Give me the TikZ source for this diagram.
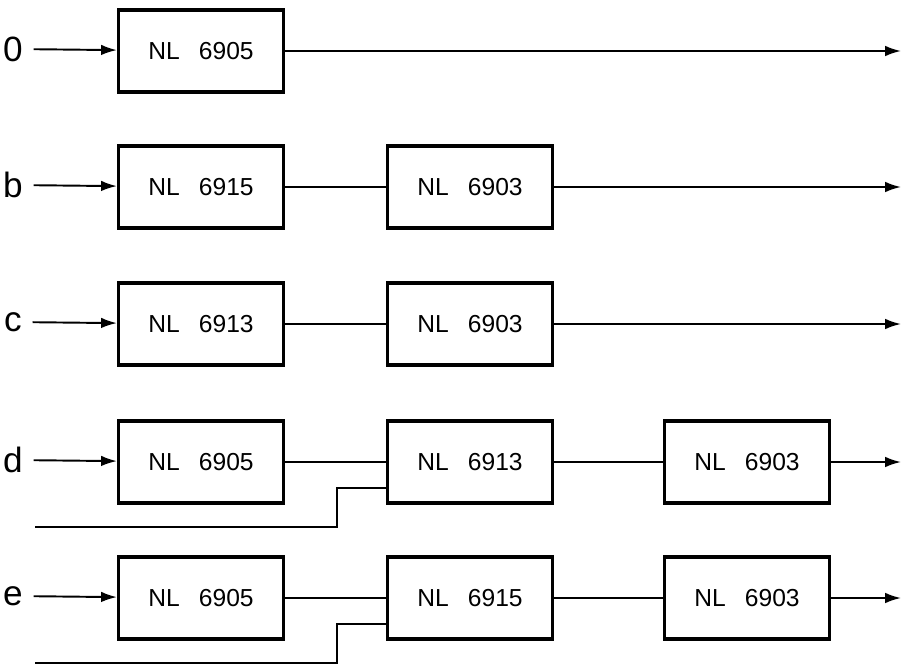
\documentclass[tikz,border=0pt]{standalone}
\usepackage{fontspec}
\setmainfont{Liberation Sans}
\usetikzlibrary{arrows.meta}
\begin{document}
\begin{tikzpicture}[x=0.02cm,y=-0.02cm,font=\fontsize{14}{16}\selectfont,
    blk/.style={draw,line width=1.8pt,minimum width=3.3cm,minimum height=1.64cm,inner sep=0pt},
    lbl/.style={font=\fontsize{20}{22}\selectfont,inner sep=6pt},
    wire/.style={line width=1.1pt},
    flow/.style={wire,-{Latex[length=9pt,width=6pt]}}]
    \useasboundingbox (0,0) rectangle (903,666);
    % row a
    \node[lbl] (la) at (13,49) {0};
    \node[blk] (a1) at (201,51) {NL\enspace\ 6905};
    \coordinate (ao) at (901,51);
    \draw[flow] (la) -- (a1);
    \draw[flow] (a1) -- (ao);
    % row b
    \node[lbl] (lb) at (13,185) {b};
    \node[blk] (b1) at (201,187) {NL\enspace\ 6915};
    \node[blk] (b2) at (470,187) {NL\enspace\ 6903};
    \coordinate (bo) at (901,187);
    \draw[flow] (lb) -- (b1);
    \draw[wire] (b1) -- (b2);
    \draw[flow] (b2) -- (bo);
    % row c
    \node[lbl] (lc) at (13,322) {c};
    \node[blk] (c1) at (201,324) {NL\enspace\ 6913};
    \node[blk] (c2) at (470,324) {NL\enspace\ 6903};
    \coordinate (co) at (901,324);
    \draw[flow] (lc) -- (c1);
    \draw[wire] (c1) -- (c2);
    \draw[flow] (c2) -- (co);
    % row d
    \node[lbl] (ld) at (13,460) {d};
    \node[blk] (d1) at (201,462) {NL\enspace\ 6905};
    \node[blk] (d2) at (470,462) {NL\enspace\ 6913};
    \node[blk] (d3) at (747,462) {NL\enspace\ 6903};
    \coordinate (dn) at (35,527);
    \coordinate (do) at (901,462);
    \draw[flow] (ld) -- (d1);
    \draw[wire] (d1) -- (d2);
    \draw[wire] (d2) -- (d3);
    \draw[flow] (d3) -- (do);
    \draw[wire] (dn) -- (337,527) |- ([yshift=-0.52cm]d2.west);
    % row e
    \node[lbl] (le) at (13,596) {e};
    \node[blk] (e1) at (201,598) {NL\enspace\ 6905};
    \node[blk] (e2) at (470,598) {NL\enspace\ 6915};
    \node[blk] (e3) at (747,598) {NL\enspace\ 6903};
    \coordinate (en) at (35,663);
    \coordinate (eo) at (901,598);
    \draw[flow] (le) -- (e1);
    \draw[wire] (e1) -- (e2);
    \draw[wire] (e2) -- (e3);
    \draw[flow] (e3) -- (eo);
    \draw[wire] (en) -- (337,663) |- ([yshift=-0.52cm]e2.west);
\end{tikzpicture}
\end{document}
